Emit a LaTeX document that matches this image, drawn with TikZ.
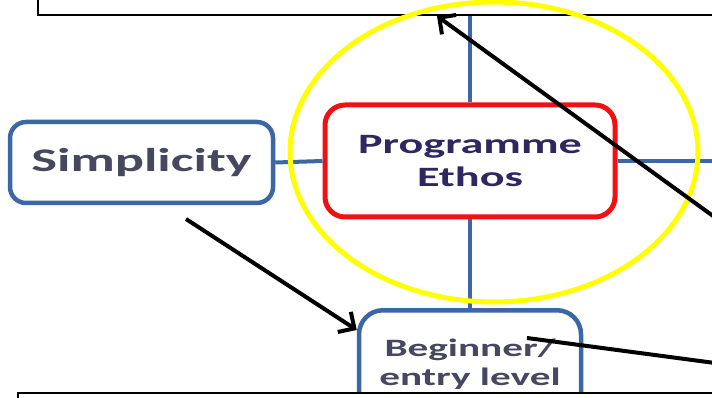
\documentclass[tikz,border=0pt]{standalone}
\usepackage{fontspec}
\newfontfamily\diagfont[FakeStretch=1.65]{Carlito}
\usetikzlibrary{arrows.meta,positioning}
\definecolor{boxblue}{RGB}{59,103,165}
\definecolor{ethosred}{RGB}{240,18,18}
\definecolor{markyellow}{RGB}{255,255,0}
\definecolor{ethosink}{RGB}{45,40,95}
\definecolor{boxink}{RGB}{70,72,95}

\begin{document}
\begin{tikzpicture}[x=1pt,y=-1pt,
    bluebox/.style={draw=boxblue, line width=4.5pt, rounded corners=16pt, fill=white},
    redbox/.style={draw=ethosred, line width=5pt, rounded corners=20pt, fill=white},
    framebox/.style={draw=black, line width=2pt, fill=white},
    link/.style={draw=boxblue, line width=4pt},
    tie/.style={draw=black, line width=4pt},
    pointer/.style={tie, -{Straight Barb[length=12pt,width=24pt]}},
    boxtext/.style={align=center, inner sep=0pt}]
  \useasboundingbox (0,0) rectangle (712,398);
  \clip (0,0) rectangle (712,398);
  % frame at the top
  \node[framebox, minimum width=760pt, minimum height=60pt, anchor=south west] (topframe) at (37,16) {};
  % boxes
  \node[bluebox, minimum width=263pt, minimum height=81pt, boxtext, text=boxink,
        font=\diagfont\bfseries\fontsize{33}{40}\selectfont] (simp) at (141.5,162.5) {Simplicity};
  \node[redbox, minimum width=290pt, minimum height=112pt, boxtext, text=ethosink,
        font=\diagfont\bfseries\fontsize{28}{33.5}\selectfont] (ethos) at (470,161) {Programme\\Ethos};
  \node[bluebox, rounded corners=24pt, minimum width=222pt, minimum height=160pt, anchor=north] (begin) at (470,308) {};
  \node[boxtext, text=boxink, font=\diagfont\bfseries\fontsize{25}{29}\selectfont] (begintext) at (470,364) {Beginner/\\entry level};
  % frame at the bottom
  \node[framebox, minimum width=760pt, minimum height=60pt, anchor=north west] (botframe) at (17,392) {};
  % blue links
  \coordinate (rightedge) at (760,161);
  \draw[link] (ethos.north) -- (ethos.north |- topframe.south);
  \draw[link] (ethos.south) -- (begin.north);
  \draw[link] (simp.east) -- (ethos.west);
  \draw[link] (ethos.east) -- (rightedge);
  % yellow mark
  \draw[markyellow, line width=5pt] (494,152) ellipse [x radius=204pt, y radius=150pt];
  % black arrows
  \coordinate (tailA) at (186,219);
  \coordinate (tailB) at (760,250);
  \coordinate (innerC) at (527,338);
  \coordinate (tailC) at (760,369);
  \draw[pointer] (tailA) -- ([yshift=-22pt]begin.north west);
  \draw[pointer] (tailB) -- ([xshift=400pt]topframe.south west);
  \draw[tie] (innerC) -- (tailC);
\end{tikzpicture}
\end{document}
